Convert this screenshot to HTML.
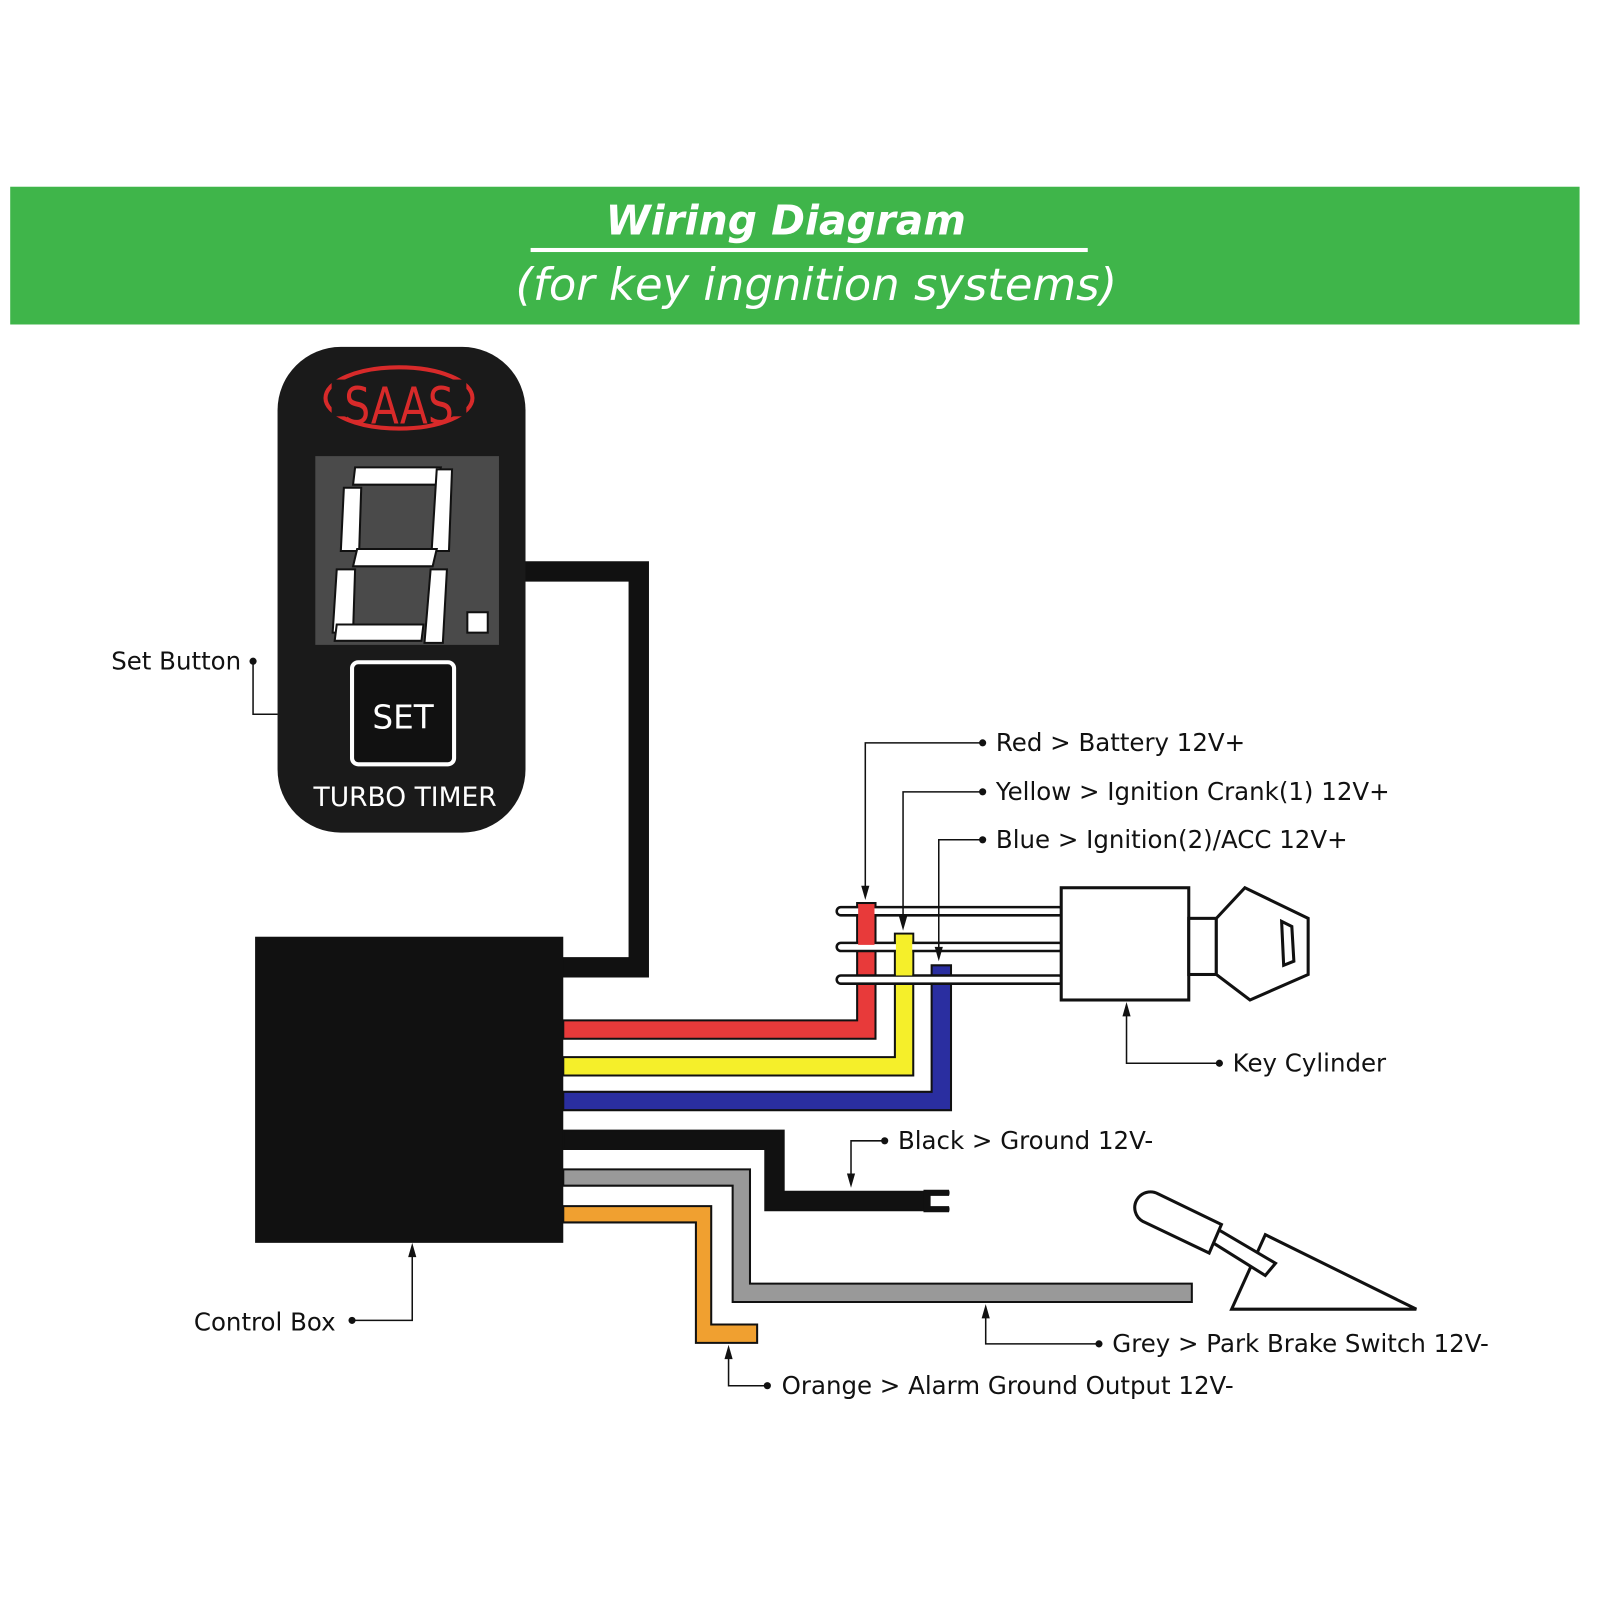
<!DOCTYPE html>
<html><head><style>
html,body{margin:0;padding:0;background:#fff;}
svg{display:block;}
text{font-family:"DejaVu Sans","Liberation Sans",sans-serif;}
</style></head><body>
<svg width="1600" height="1600" viewBox="0 0 1600 1600" xmlns="http://www.w3.org/2000/svg">
<rect width="1600" height="1600" fill="#fff"/>
<g transform="scale(1.0204)">
<rect x="10" y="183" width="1538" height="135" fill="#3fb54a"/>
<text x="770" y="230" text-anchor="middle" font-size="40" font-weight="bold" font-style="italic" fill="#fff">Wiring Diagram</text>
<rect x="520" y="243" width="546" height="4" fill="#fff"/>
<text x="800" y="294" text-anchor="middle" font-size="44" font-style="italic" fill="#fff">(for key ingnition systems)</text>

<path d="M505 560 H626 V948 H548" fill="none" stroke="#111" stroke-width="20"/>

<rect x="272" y="340" width="243" height="476" rx="62" fill="#1a1a1a"/>
<ellipse cx="391" cy="390" rx="72" ry="30" fill="none" stroke="#d82a2a" stroke-width="4"/>
<rect x="325" y="372" width="132" height="36" fill="#1a1a1a"/>
<text x="391" y="415" text-anchor="middle" font-size="50" fill="#d82a2a" font-family="Liberation Sans Narrow,Liberation Sans,sans-serif" transform="translate(391 0) scale(0.8 1) translate(-391 0)">SAAS</text>
<rect x="309" y="447" width="180" height="185" fill="#4a4a4a"/>
<g fill="#fff" stroke="#111" stroke-width="2">
<polygon points="348,458 432,458 428,475 346,475"/>
<polygon points="337,478 354,478 352,540 334,540"/>
<polygon points="428,460 443,460 440,540 423,540"/>
<polygon points="350,538 428,538 424,555 346,555"/>
<polygon points="330,558 348,558 346,620 326,620"/>
<polygon points="422,558 438,558 434,630 416,630"/>
<polygon points="330,612 415,612 413,628 328,628"/>
<rect x="458" y="600" width="20" height="20"/>
</g>
<rect x="345" y="649" width="100" height="100" rx="6" fill="#111" stroke="#fff" stroke-width="4"/>
<text x="395" y="714" text-anchor="middle" font-size="32" fill="#fff">SET</text>
<text x="397" y="790" text-anchor="middle" font-size="26" fill="#fff">TURBO TIMER</text>

<rect x="250" y="918" width="302" height="300" fill="#111"/>

<g stroke="#111" stroke-width="2">
<path d="M552 1000 H840 V885 H858 V1018 H552Z" fill="#e83a3a"/>
<path d="M552 1036 H877 V915 H895 V1054 H552Z" fill="#f5ef2a"/>
<path d="M552 1070 H913 V946 H932 V1088 H552Z" fill="#2a2ea0"/>
<path d="M552 1108 H768 V1168 H905 V1186 H750 V1126 H552Z" fill="#111"/>
<path d="M552 1146 H735 V1258 H1168 V1276 H718 V1162 H552Z" fill="#999"/>
<path d="M552 1182 H697 V1298 H742 V1316 H682 V1198 H552Z" fill="#f0a030"/>
</g>
<path d="M905 1166 H930 A8 8 0 0 1 930 1172 H912 V1182 H930 A8 8 0 0 1 930 1188 H905Z" fill="#111"/>

<g fill="#fff" stroke="#111" stroke-width="2.5">
<rect x="820" y="889" width="222" height="8" rx="4"/>
<rect x="820" y="924" width="222" height="8" rx="4"/>
<rect x="820" y="956" width="222" height="8" rx="4"/>
</g>
<rect x="841" y="886" width="16" height="40" fill="#e83a3a"/>
<rect x="878" y="916" width="16" height="40" fill="#f5ef2a"/>
<g fill="#fff" stroke="#111" stroke-width="3">
<rect x="1040" y="870" width="125" height="110"/>
<rect x="1165" y="900" width="27" height="55"/>
<polygon points="1192,900 1220,870 1282,900 1282,955 1225,980 1192,955"/>
<polygon points="1256,903 1266,908 1268,942 1258,946"/>
</g>
<g fill="#fff" stroke="#111" stroke-width="3">
<polygon points="1240,1210 1388,1283 1207,1283"/>
<polygon points="1165,1188 1250,1238 1240,1250 1160,1200"/>
<path d="M1135,1170 L1197,1200 L1185,1228 L1120,1197 A14 14 0 0 1 1135,1170Z"/>
</g>

<g fill="none" stroke="#111" stroke-width="1.5">
<path d="M963 728 H848 V878"/>
<path d="M963 776 H885 V908"/>
<path d="M963 823 H920 V938"/>
<path d="M1195 1042 H1104 V990"/>
<path d="M867 1118 H834 V1160"/>
<path d="M1077 1317 H966 V1285"/>
<path d="M752 1358 H714 V1325"/>
<path d="M345 1294 H404 V1226"/>
<path d="M248 648 V700 H272"/>
</g>
<g fill="#111">
<polygon points="844,868 852,868 848,882"/>
<polygon points="881,898 889,898 885,912"/>
<polygon points="916,928 924,928 920,942"/>
<polygon points="1100,996 1108,996 1104,982"/>
<polygon points="830,1150 838,1150 834,1164"/>
<polygon points="962,1292 970,1292 966,1278"/>
<polygon points="710,1332 718,1332 714,1318"/>
<polygon points="400,1232 408,1232 404,1218"/>
<circle cx="963" cy="728" r="3.5"/><circle cx="963" cy="776" r="3.5"/><circle cx="963" cy="823" r="3.5"/>
<circle cx="1195" cy="1042" r="3.5"/><circle cx="867" cy="1118" r="3.5"/><circle cx="1077" cy="1317" r="3.5"/>
<circle cx="752" cy="1358" r="3.5"/><circle cx="345" cy="1294" r="3.5"/><circle cx="248" cy="648" r="3.5"/>
</g>
<g font-size="24" fill="#111">
<text x="976" y="736">Red &gt; Battery 12V+</text>
<text x="976" y="784">Yellow &gt; Ignition Crank(1) 12V+</text>
<text x="976" y="831">Blue &gt; Ignition(2)/ACC 12V+</text>
<text x="1208" y="1050">Key Cylinder</text>
<text x="880" y="1126">Black &gt; Ground 12V-</text>
<text x="1090" y="1325">Grey &gt; Park Brake Switch 12V-</text>
<text x="766" y="1366">Orange &gt; Alarm Ground Output 12V-</text>
<text x="190" y="1304">Control Box</text>
<text x="109" y="656">Set Button</text>
</g>
</g>
</svg>
</body></html>
